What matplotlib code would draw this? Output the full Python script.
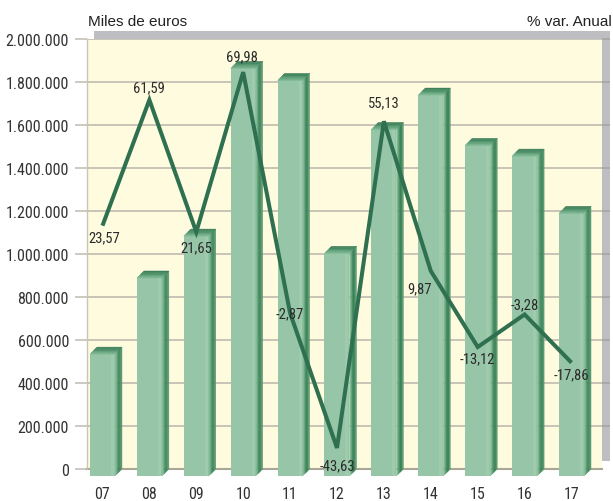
import matplotlib
matplotlib.use('Agg')
import matplotlib.pyplot as plt
from matplotlib.patches import Polygon, Rectangle
from matplotlib import font_manager as fm
import numpy as np

# ---------------- data ----------------
years = ['07', '08', '09', '10', '11', '12', '13', '14', '15', '16', '17']
miles_euros = [567000, 921000, 1116000, 1896000, 1840000, 1036000,
               1612000, 1772000, 1538000, 1488000, 1222000]
var_anual = [23.57, 61.59, 21.65, 69.98, -2.87, -43.63,
             55.13, 9.87, -13.12, -3.28, -17.86]
var_labels = ['23,57', '61,59', '21,65', '69,98', '-2,87', '-43,63',
              '55,13', '9,87', '-13,12', '-3,28', '-17,86']
yticks = [0, 200000, 400000, 600000, 800000, 1000000,
          1200000, 1400000, 1600000, 1800000, 2000000]
ytick_labels = ['0', '200.000', '400.000', '600.000', '800.000', '1.000.000',
                '1.200.000', '1.400.000', '1.600.000', '1.800.000', '2.000.000']

# label offsets (pixels) relative to line points
label_offsets = [(2, -12), (0, 13), (0, -15), (-1, 16), (0, 0), (0, -17),
                 (0, 19), (-11, -17), (0, -11), (0, 10), (0, -12)]

# ---------------- fonts ----------------
names = {f.name for f in fm.fontManager.ttflist}
narrow_font = None
narrow_stretch = 'normal'
for pref in ['Liberation Sans Narrow', 'Roboto Condensed', 'Open Sans Condensed',
             'Noto Sans Condensed', 'DejaVu Sans Condensed', 'Arial Narrow']:
    if pref in names:
        narrow_font = pref
        break
if narrow_font is None:
    for f in fm.fontManager.ttflist:
        st = f.stretch
        if (isinstance(st, str) and 'condensed' in st) or (isinstance(st, (int, float)) and st < 500):
            if any(k in f.name for k in ['Sans', 'Roboto', 'Lato', 'Inter', 'Liberation']):
                narrow_font = f.name
                narrow_stretch = st
                break
if narrow_font is not None:
    narrow = [narrow_font, 'DejaVu Sans']
    tick_fs, lab_fs = 11.5, 10.5
    nkw = dict(family=narrow, stretch=narrow_stretch)
else:
    narrow = ['Liberation Sans', 'DejaVu Sans']
    tick_fs, lab_fs = 10.0, 9.5
    nkw = dict(family=narrow)
regular = ['Liberation Sans', 'DejaVu Sans']

W, H = 613, 502
fig = plt.figure(figsize=(W / 100, H / 100), dpi=100)
fig.patch.set_facecolor('white')
L, R, T, B = 87, 602, 40, 470
ax = fig.add_axes([L / W, 1 - B / H, (R - L) / W, (B - T) / H])
ax.set_facecolor('#fefbdf')

# gray back wall (shadow) offset behind plot area
shadow = Rectangle(((L + 7) / W, 1 - (B - 8) / H), (R - L + 1) / W, (B - T) / H,
                   transform=fig.transFigure, facecolor='#bebec2',
                   edgecolor='none', zorder=-5)
fig.add_artist(shadow)

x = np.arange(len(years))
xmin, xmax = -0.330, 10.650
ymin, ymax = 0, 2000000
ax.set_xlim(xmin, xmax)
ax.set_ylim(ymin, ymax)

px_x = (xmax - xmin) / (R - L)      # data units per pixel (x)
px_y = (ymax - ymin) / (B - T)      # data units per pixel (y)
w = 25 * px_x
ddx = 7 * px_x
ddy = 7 * px_y

front_col = '#97c5a8'
side_cols = ['#88c09c', '#6fae87', '#4f946b', '#3c8259', '#3f855c', '#58996f']
top_cols = ['#7ab690', '#66a680', '#549770', '#468a63', '#3d8059']

for xi, v in zip(x, miles_euros):
    x0 = xi - w / 2
    x1 = xi + w / 2
    # front face
    ax.add_patch(Rectangle((x0, -ddy), w, v, facecolor=front_col,
                           edgecolor='none', zorder=3, clip_on=False))
    ax.add_patch(Rectangle((x1 - 4 * px_x, -ddy), 3 * px_x, v, facecolor='#9fcaae',
                           edgecolor='none', zorder=3, clip_on=False))
    # side face (gradient strips)
    n = len(side_cols)
    for k, c in enumerate(side_cols):
        a = k / n
        b = (k + 1) / n
        poly = [(x1 + a * ddx, -ddy + a * ddy), (x1 + b * ddx, -ddy + b * ddy),
                (x1 + b * ddx, v - ddy + b * ddy), (x1 + a * ddx, v - ddy + a * ddy)]
        ax.add_patch(Polygon(poly, closed=True, facecolor=c, edgecolor=c,
                             linewidth=0.3, zorder=3, clip_on=False))
    # top face (gradient strips from front to back)
    n = len(top_cols)
    for k, c in enumerate(top_cols):
        a = k / n
        b = (k + 1) / n
        poly = [(x0 + a * ddx, v - ddy + a * ddy), (x1 + a * ddx, v - ddy + a * ddy),
                (x1 + b * ddx, v - ddy + b * ddy), (x0 + b * ddx, v - ddy + b * ddy)]
        ax.add_patch(Polygon(poly, closed=True, facecolor=c, edgecolor=c,
                             linewidth=0.3, zorder=3, clip_on=False))

# axes styling
ax.set_yticks(yticks)
ax.set_yticklabels(ytick_labels, fontsize=tick_fs, color='#333333', **nkw)
ax.set_xticks(x)
ax.set_xticklabels(years, fontsize=tick_fs, color='#333333', **nkw)
ax.tick_params(axis='y', length=12 * 0.72, width=1.1, color='#bfbbaf', pad=6 * 0.72)
ax.tick_params(axis='x', length=0, pad=12)
ax.grid(axis='y', color='#bfbbaf', linewidth=1.2)
ax.set_axisbelow(True)
# gridlines continue across the gray side wall
ax.hlines(yticks[1:], 1.0, 1.0 + 8 / (R - L), transform=ax.get_yaxis_transform(),
          colors='#a6a5a5', linewidth=1.2, clip_on=False, zorder=0.5)
for s in ['top', 'right']:
    ax.spines[s].set_visible(False)
ax.spines['left'].set_color('#c9c5b7')
ax.spines['left'].set_linewidth(1.0)
ax.spines['bottom'].set_color('#a9a597')
ax.spines['bottom'].set_linewidth(1.5)
ax.spines['bottom'].set_zorder(2)

# line on secondary axis
ax2 = ax.twinx()
ax2.set_ylim(-50, 80)
ax2.set_xlim(xmin, xmax)
ax2.patch.set_visible(False)
for s in ax2.spines.values():
    s.set_visible(False)
ax2.set_yticks([])
ax2.plot(x, var_anual, color='#2e7050', linewidth=2.9,
         solid_joinstyle='miter', solid_capstyle='butt', zorder=5)
for xi, v, lab, off in zip(x, var_anual, var_labels, label_offsets):
    ax2.annotate(lab, (xi, v), xytext=off, textcoords='offset pixels',
                 ha='center', va='center', fontsize=lab_fs,
                 color='#2b2b2b', zorder=6, **nkw)

fig.text(88 / W, 1 - 22 / H, 'Miles de euros', family=regular, fontsize=11,
         ha='left', va='center', color='#222222')
fig.text(612 / W, 1 - 22 / H, '% var. Anual', family=regular, fontsize=11,
         ha='right', va='center', color='#222222')

fig.savefig('out.png', dpi=100, facecolor='white')
